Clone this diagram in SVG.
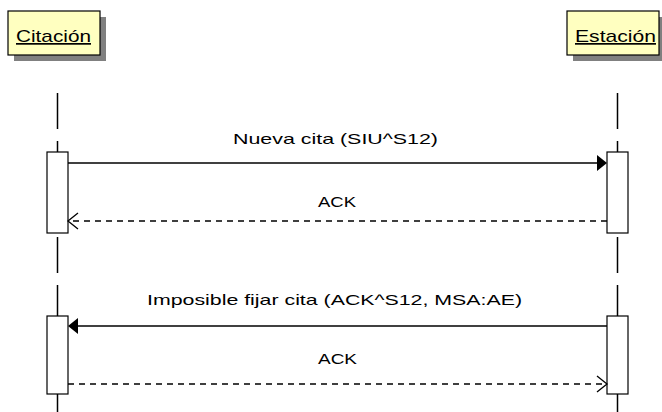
<svg xmlns="http://www.w3.org/2000/svg" width="662" height="412" viewBox="0 0 662 412">
<style>
.hdr{fill:#FFFFC0;stroke:#000;stroke-width:1.2}
.shd{fill:#808080}
.ht{font-family:"Liberation Sans",Arial,sans-serif;font-size:17px;fill:#000;text-decoration:underline}
.life{stroke:#000;stroke-width:1.5;stroke-dasharray:36 12;fill:none}
.act{fill:#fff;stroke:#000;stroke-width:1.2}
.msg{stroke:#000;stroke-width:1.3;fill:none}
.ret{stroke:#000;stroke-width:1.3;fill:none;stroke-dasharray:6 5}
.lbl{font-family:"Liberation Sans",Arial,sans-serif;font-size:15px;fill:#000;text-anchor:middle}
.head{fill:#000}
</style>
<rect width="662" height="412" fill="#fff"/>
<g id="Citacion">
<rect class="shd" x="14" y="17" width="92" height="44"/>
<rect class="hdr" x="8" y="11" width="92" height="44"/>
<text class="ht" x="16" y="42" textLength="75" lengthAdjust="spacingAndGlyphs">Citación</text>
<line class="life" x1="57.5" y1="93" x2="57.5" y2="412"/>
<rect class="act" x="47" y="152" width="21" height="81"/>
<rect class="act" x="47" y="316" width="21" height="78"/>
</g>
<g id="Estacion">
<rect class="shd" x="573" y="17" width="92" height="44"/>
<rect class="hdr" x="567" y="11" width="92" height="44"/>
<text class="ht" x="575" y="42" textLength="81" lengthAdjust="spacingAndGlyphs">Estación</text>
<line class="life" x1="617.5" y1="93" x2="617.5" y2="412"/>
<rect class="act" x="607" y="152" width="21" height="81"/>
<rect class="act" x="607" y="316" width="21" height="78"/>
</g>
<g id="connectors">
<line class="msg" x1="68" y1="163" x2="600" y2="163"/>
<polygon class="head" points="607,163 597,155 597,171"/>
<text class="lbl" x="335.5" y="144" textLength="205" lengthAdjust="spacingAndGlyphs">Nueva cita (SIU^S12)</text>
<line class="ret" x1="607" y1="221" x2="69" y2="221"/>
<polyline class="msg" points="78,213 68,221 78,229"/>
<text class="lbl" x="337" y="207" textLength="38" lengthAdjust="spacingAndGlyphs">ACK</text>
<line class="msg" x1="607" y1="326" x2="75" y2="326"/>
<polygon class="head" points="68,326 78,318 78,334"/>
<text class="lbl" x="334.5" y="305" textLength="375" lengthAdjust="spacingAndGlyphs">Imposible fijar cita (ACK^S12, MSA:AE)</text>
<line class="ret" x1="68" y1="384" x2="606" y2="384"/>
<polyline class="msg" points="597,376 607,384 597,392"/>
<text class="lbl" x="337.5" y="364" textLength="39" lengthAdjust="spacingAndGlyphs">ACK</text>
</g>
</svg>
